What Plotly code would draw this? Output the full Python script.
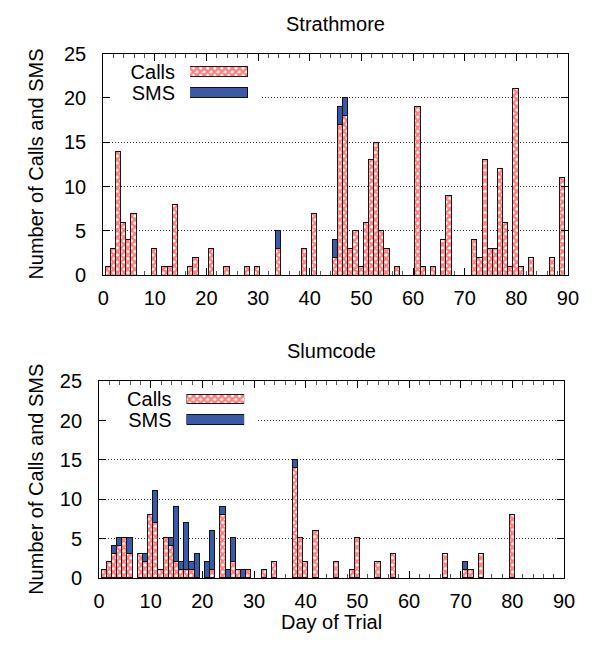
import plotly.graph_objects as go

# ---------------- data ----------------
strath_days = [1, 2, 3, 4, 5, 6, 10, 12, 13, 14, 17, 18, 21, 24, 28, 30, 34, 39, 41,
               45, 46, 47, 48, 49, 50, 51, 52, 53, 54, 55, 57, 61, 62, 64, 66, 67,
               72, 73, 74, 75, 76, 77, 78, 79, 80, 81, 83, 87, 89]
strath_calls = [1, 3, 14, 6, 4, 7, 3, 1, 1, 8, 1, 2, 3, 1, 1, 1, 3, 3, 7,
                2, 17, 18, 3, 5, 1, 6, 13, 15, 5, 3, 1, 19, 1, 1, 4, 9,
                4, 2, 13, 3, 3, 12, 6, 1, 21, 1, 2, 2, 11]
strath_sms = [0, 0, 0, 0, 0, 0, 0, 0, 0, 0, 0, 0, 0, 0, 0, 0, 2, 0, 0,
              2, 2, 2, 0, 0, 0, 0, 0, 0, 0, 0, 0, 0, 0, 0, 0, 0,
              0, 0, 0, 0, 0, 0, 0, 0, 0, 0, 0, 0, 0]

slum_days = [1, 2, 3, 4, 5, 6, 8, 9, 10, 11, 12, 13, 14, 15, 16, 17, 18, 19, 21, 22,
             24, 25, 26, 27, 28, 29, 32, 34, 38, 39, 40, 42, 46, 49, 50, 54, 57,
             67, 71, 72, 74, 80]
slum_calls = [1, 2, 3, 4, 5, 3, 3, 2, 8, 7, 1, 5, 4, 2, 1, 1, 1, 0, 0, 1,
              8, 0, 2, 1, 0, 1, 1, 2, 14, 5, 2, 6, 2, 1, 5, 2, 3,
              3, 1, 1, 3, 8]
slum_sms = [0, 0, 1, 1, 0, 2, 0, 1, 0, 4, 0, 0, 1, 7, 1, 6, 1, 3, 2, 5,
            1, 1, 3, 0, 1, 0, 0, 0, 1, 0, 0, 0, 0, 0, 0, 0, 0,
            0, 1, 0, 0, 0]

titles = ["Strathmore", "Slumcode"]
legend_labels = ["Calls", "SMS"]
legend_keys = [1, 1]
y_title = "Number of Calls and SMS"
x_title = "Day of Trial"

# ---------------- style ----------------
W, H = 611, 655
FONT = "Liberation Sans, Arial, Helvetica, sans-serif"
FS = 20
BLUE = "#3a5aa8"
call_marker = dict(color="white",
                   pattern=dict(shape="x", fgcolor="#ff0000", bgcolor="white", size=5, solidity=0.72),
                   line=dict(color="#1a1a1a", width=1))
sms_marker = dict(color=BLUE, line=dict(color="#111111", width=1))


def px_x(p):
    return p / W


def px_y(p):
    return 1 - p / H


fig = go.Figure()

# main bars
for days, calls, sms, xa, ya in [(strath_days, strath_calls, strath_sms, "x", "y"),
                                 (slum_days, slum_calls, slum_sms, "x2", "y2")]:
    fig.add_trace(go.Bar(x=days, y=calls, width=1, marker=call_marker, xaxis=xa, yaxis=ya,
                         showlegend=False, hoverinfo="x+y"))
    fig.add_trace(go.Bar(x=days, y=sms, width=1, marker=sms_marker, xaxis=xa, yaxis=ya,
                         showlegend=False, hoverinfo="x+y"))

# legend keys drawn as horizontal bars on small hidden axes
for xa, ya in [("x3", "y3"), ("x4", "y4")]:
    fig.add_trace(go.Bar(x=legend_keys[:1], y=legend_labels[:1], orientation="h", width=0.46,
                         marker=call_marker, xaxis=xa, yaxis=ya, showlegend=False, hoverinfo="skip"))
    fig.add_trace(go.Bar(x=legend_keys[1:], y=legend_labels[1:], orientation="h", width=0.46,
                         marker=sms_marker, xaxis=xa, yaxis=ya, showlegend=False, hoverinfo="skip"))

tickfont = dict(family=FONT, size=FS, color="black")


def xaxis_cfg(domain, anchor):
    return dict(domain=domain, anchor=anchor, range=[0, 90], dtick=10, tick0=0,
                showline=True, linecolor="black", linewidth=1, mirror="ticks",
                ticks="inside", ticklen=7, tickcolor="black", tickwidth=1,
                minor=dict(dtick=2, ticks="inside", ticklen=4, tickcolor="#555555"),
                showgrid=False, zeroline=False, tickfont=tickfont,
                ticklabelstandoff=5, layer="below traces", fixedrange=True)


def yaxis_cfg(domain, anchor):
    return dict(domain=domain, anchor=anchor, range=[0, 25], dtick=5, tick0=0,
                showline=True, linecolor="black", linewidth=1, mirror="ticks",
                ticks="inside", ticklen=7, tickcolor="black", tickwidth=1,
                showgrid=True, gridcolor="#333333", gridwidth=1, griddash="1px,2px",
                zeroline=False, tickfont=tickfont, ticklabelstandoff=12, fixedrange=True)


def key_x(domain, anchor):
    return dict(domain=domain, anchor=anchor, range=[0, 1], visible=False, fixedrange=True)


def key_y(domain, anchor):
    return dict(domain=domain, anchor=anchor, range=[1.5, -0.5], type="category",
                categoryorder="array", categoryarray=legend_labels,
                tickmode="linear", tick0=0, dtick=1,
                showline=False, showgrid=False, zeroline=False, ticks="",
                tickfont=tickfont, ticklabelstandoff=14, fixedrange=True)


top_x = [px_x(100), px_x(578)]
top_y = [px_y(273.5), px_y(44)]
bot_x = [px_x(95.7), px_x(574)]
bot_y = [px_y(586.7), px_y(383)]

fig.update_layout(
    width=W, height=H,
    margin=dict(l=0, r=0, t=0, b=0),
    paper_bgcolor="white", plot_bgcolor="white",
    barmode="stack", bargap=0,
    font=dict(family=FONT, size=FS, color="black"),
    showlegend=False,
    xaxis=xaxis_cfg(top_x, "y"),
    yaxis=yaxis_cfg(top_y, "x"),
    xaxis2=xaxis_cfg(bot_x, "y2"),
    yaxis2=yaxis_cfg(bot_y, "x2"),
    xaxis3=key_x([px_x(189.3), px_x(249)], "y3"),
    yaxis3=key_y([px_y(96), px_y(52)], "x3"),
    xaxis4=key_x([px_x(185.7), px_x(245)], "y4"),
    yaxis4=key_y([px_y(433.7), px_y(391)], "x4"),
)

# white boxes behind legends (hide the gridline at 20)
for xr, yr in [("x", "y"), ("x2", "y2")]:
    fig.add_shape(type="rect", xref=xr, yref=yr, x0=0.3, x1=30.5, y0=17.5, y1=24.8,
                  fillcolor="white", line=dict(width=0), layer="between")

# titles and axis titles
ann = [
    dict(text=titles[0], x=px_x(339), y=px_y(13)),
    dict(text=titles[1], x=px_x(335), y=px_y(352)),
    dict(text=x_title, x=px_x(335), y=px_y(632)),
    dict(text=y_title, x=px_x(31), y=px_y(158.8), textangle=-90),
    dict(text=y_title, x=px_x(31), y=px_y(485), textangle=-90),
]
for a in ann:
    fig.add_annotation(xref="paper", yref="paper", showarrow=False, xanchor="center",
                       yanchor="middle", font=dict(family=FONT, size=FS, color="black"), **a)

fig.write_html("out.html", config={"displayModeBar": False},
               post_script="document.body.style.margin='0px';document.body.style.overflow='hidden';")
